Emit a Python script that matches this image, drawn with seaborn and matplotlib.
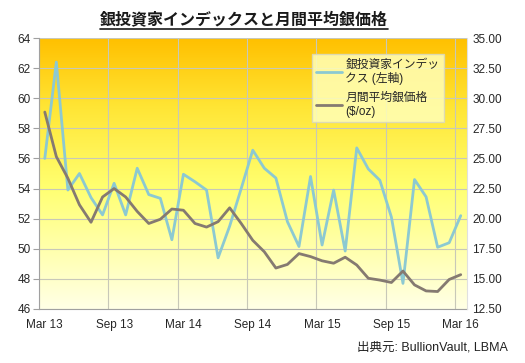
import numpy as np
import pandas as pd
import matplotlib
matplotlib.use("Agg")
import matplotlib.pyplot as plt
from matplotlib.colors import LinearSegmentedColormap
from matplotlib.lines import Line2D
import seaborn as sns

# monthly data, Mar 2013 .. Mar 2016
months = pd.date_range("2013-03-01", "2016-03-01", freq="MS")
index_vals = [56.0, 62.4, 53.9, 55.0, 53.4, 52.25, 54.35, 52.25, 55.35, 53.6,
              53.35, 50.6, 54.95, 54.45, 53.9, 49.4, 51.5, 54.0, 56.55, 55.35,
              54.7, 51.8, 50.15, 54.8, 50.25, 53.9, 49.85, 56.7, 55.3, 54.55,
              52.1, 47.7, 54.6, 53.45, 50.1, 50.4, 52.2]
silver_vals = [28.85, 25.15, 23.35, 21.15, 19.7, 21.8, 22.5, 21.8, 20.6, 19.6,
               19.95, 20.8, 20.7, 19.6, 19.3, 19.75, 20.9, 19.6, 18.2, 17.25,
               15.9, 16.2, 17.1, 16.85, 16.5, 16.3, 16.8, 16.15, 15.05, 14.9,
               14.7, 15.65, 14.5, 14.0, 13.95, 14.95, 15.35]
tick_labels = ["Mar 13", "Sep 13", "Mar 14", "Sep 14", "Mar 15", "Sep 15", "Mar 16"]

df = pd.DataFrame({"month": months, "index": index_vals, "silver": silver_vals})
df["pos"] = np.arange(len(df))

sns.set_style("white")
plt.rcParams["font.family"] = ["Liberation Sans", "Noto Sans CJK JP"]

fig = plt.figure(figsize=(5.25, 3.63), dpi=100)
ax = fig.add_axes([0.0743, 0.1488, 0.8143, 0.7465])
ax2 = ax.twinx()

n = len(df)
# gradient background
cmap = LinearSegmentedColormap.from_list(
    "bg", [(0.0, "#FFFFE6"), (0.45, "#FFFF70"), (0.75, "#FFE534"), (1.0, "#FFC000")])
grad = np.linspace(0, 1, 256).reshape(-1, 1)
ax.imshow(grad, extent=[-0.5, n - 0.5, 46, 64], origin="lower", aspect="auto",
          cmap=cmap, zorder=0)

sns.lineplot(data=df, x="pos", y="index", ax=ax, color="#8CC9D2", linewidth=2.0,
             label="銀投資家インデッ\nクス (左軸)", legend=False, zorder=3)
sns.lineplot(data=df, x="pos", y="silver", ax=ax2, color="#857A71", linewidth=2.0,
             label="月間平均銀価格\n($/oz)", legend=False, zorder=3)

ax.set_xlim(-0.5, n - 0.5)
ax.set_ylim(46, 64)
ax2.set_ylim(12.5, 35)
ax.set_yticks(np.arange(46, 65, 2))
ax2.set_yticks(np.arange(12.5, 35.1, 2.5))
ax2.set_yticklabels([f"{v:.2f}" for v in np.arange(12.5, 35.1, 2.5)])

# tick marks between categories, labels on the months
ax.set_xticks(np.arange(-0.5, n, 6))
ax.set_xticklabels([])
ax.set_xticks(np.arange(0, n, 6), minor=True)
ax.set_xticklabels(tick_labels, minor=True)
ax.tick_params(axis="x", which="minor", length=0, pad=7, labelsize=8.5)
ax.tick_params(axis="x", which="major", length=4, color="#A0A0A0", direction="out")
ax.tick_params(axis="y", length=4, color="#A0A0A0", direction="out", pad=2, labelsize=8.5)
ax2.tick_params(axis="y", length=0, pad=4, labelsize=8.5)

ax.set_axisbelow(True)
ax.grid(True, which="major", color="#C8C8B8", linewidth=0.8)
ax.set_xlabel("")
ax.set_ylabel("")
ax2.set_ylabel("")

for a in (ax, ax2):
    for s in a.spines.values():
        s.set_visible(False)
ax.spines["left"].set_visible(True)
ax.spines["bottom"].set_visible(True)
ax.spines["left"].set_color("#A0A0A0")
ax.spines["bottom"].set_color("#A0A0A0")
ax2.spines["right"].set_visible(True)
ax2.spines["right"].set_color("#E0E0E0")

handles = [ax.get_lines()[0], ax2.get_lines()[0]]
leg = ax2.legend(handles=handles, labels=[h.get_label() for h in handles],
                 loc="upper left", bbox_to_anchor=(0.638, 0.94), fontsize=8.5,
                 frameon=True, fancybox=False, handlelength=2.2, handletextpad=0.3,
                 labelspacing=0.55, borderpad=0.35, borderaxespad=0)
leg.get_frame().set_facecolor("#FFFFB8")
leg.get_frame().set_alpha(0.85)
leg.get_frame().set_edgecolor("#D8D8C0")
leg.set_zorder(10)

title = fig.text(0.465, 0.945, "銀投資家インデックスと月間平均銀価格", ha="center", va="center",
                 fontsize=11.5, fontweight="bold", family=["Noto Sans CJK JP"], color="#1A1A1A")
fig.text(0.968, 0.042, "出典元: BullionVault, LBMA", ha="right", va="center", fontsize=9,
         color="#222222")

fig.canvas.draw()
bb = title.get_window_extent(fig.canvas.get_renderer())
fb = fig.bbox
y_line = (bb.y0 - 1) / fb.height
fig.add_artist(Line2D([bb.x0 / fb.width, bb.x1 / fb.width], [y_line, y_line],
                      color="#1A1A1A", linewidth=1.2, transform=fig.transFigure))

fig.savefig("out.png", dpi=100)
